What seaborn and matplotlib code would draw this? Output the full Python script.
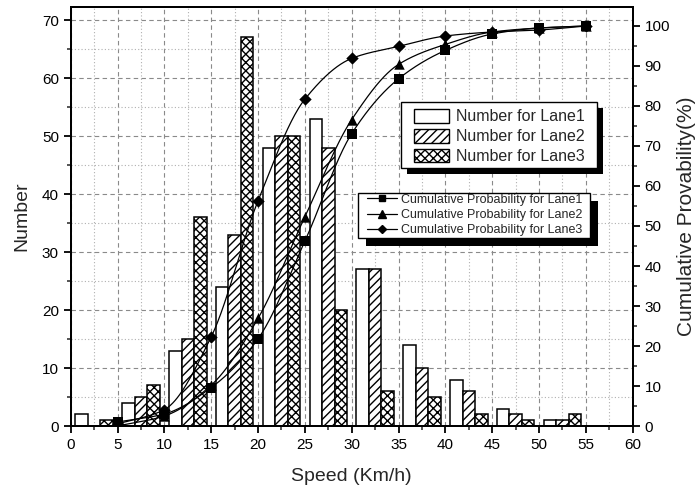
import numpy as np
import pandas as pd
import matplotlib
matplotlib.use("Agg")
import matplotlib.pyplot as plt
from matplotlib.patches import Patch, Rectangle
from matplotlib.lines import Line2D
from matplotlib.ticker import MultipleLocator
import seaborn as sns

# Speed bins (centre of each 5 km/h class) and vehicle counts per lane
speed_bins = [2.5, 7.5, 12.5, 17.5, 22.5, 27.5, 32.5, 37.5, 42.5, 47.5, 52.5]
count_lane1 = [2, 4, 13, 24, 48, 53, 27, 14, 8, 3, 1]
count_lane2 = [0, 5, 15, 33, 50, 48, 27, 10, 6, 2, 1]
count_lane3 = [1, 7, 36, 67, 50, 20, 6, 5, 2, 1, 2]

# Cumulative probability (%) at the upper edge of each class
cum_speed = [5, 10, 15, 20, 25, 30, 35, 40, 45, 50, 55]
cum_lane1 = [1.0, 3.0, 9.6, 21.8, 46.2, 73.1, 86.8, 93.9, 98.0, 99.5, 100.0]
cum_lane2 = [0.0, 2.5, 10.2, 26.9, 52.3, 76.6, 90.4, 95.4, 98.5, 99.5, 100.0]
cum_lane3 = [0.5, 4.1, 22.3, 56.3, 81.7, 91.9, 94.9, 97.5, 98.5, 99.0, 100.0]

lanes = ["Lane1", "Lane2", "Lane3"]
bar_labels = ["Number for Lane1", "Number for Lane2", "Number for Lane3"]
cum_labels = ["Cumulative Probability for Lane1",
              "Cumulative Probability for Lane2",
              "Cumulative Probability for Lane3"]
hatches = ["", "////", "xxxx"]
markers = ["s", "^", "D"]
marker_sizes = [6.5, 7.5, 6.3]
legend_marker_sizes = [4.8, 5.8, 4.4]


def pchip(x, y, xs):
    """Monotone cubic Hermite curve through (x, y), evaluated at xs."""
    x = np.asarray(x, float)
    y = np.asarray(y, float)
    h = np.diff(x)
    d = np.diff(y) / h
    m = np.zeros_like(y)
    for k in range(1, len(x) - 1):
        if d[k - 1] * d[k] > 0:
            w1 = 2 * h[k] + h[k - 1]
            w2 = h[k] + 2 * h[k - 1]
            m[k] = (w1 + w2) / (w1 / d[k - 1] + w2 / d[k])
    m[0] = d[0]
    m[-1] = d[-1]
    idx = np.clip(np.searchsorted(x, xs) - 1, 0, len(x) - 2)
    t = (xs - x[idx]) / h[idx]
    h00 = 2 * t**3 - 3 * t**2 + 1
    h10 = t**3 - 2 * t**2 + t
    h01 = -2 * t**3 + 3 * t**2
    h11 = t**3 - t**2
    return (h00 * y[idx] + h10 * h[idx] * m[idx]
            + h01 * y[idx + 1] + h11 * h[idx] * m[idx + 1])


sns.set_style("ticks")
plt.rcParams["font.family"] = ["Liberation Sans", "DejaVu Sans"]
plt.rcParams["hatch.linewidth"] = 1.0

fig = plt.figure(figsize=(6.96, 4.92), dpi=100)
W, H = 696.0, 492.0


def fx(px):
    return px / W


def fy(py):
    return 1 - py / H


ax = fig.add_axes([fx(70.7), fy(426), (632.7 - 70.7) / W, (426 - 7) / H])

df = pd.DataFrame({
    "speed": speed_bins * 3,
    "lane": np.repeat(lanes, len(speed_bins)),
    "count": count_lane1 + count_lane2 + count_lane3,
})

sns.barplot(data=df, x="speed", y="count", hue="lane", hue_order=lanes,
            native_scale=True, palette=["white"] * 3, saturation=1,
            edgecolor="black", linewidth=1.1, errorbar=None, legend=False,
            ax=ax)
for cont, hatch in zip(ax.containers, hatches):
    for bar in cont:
        bar.set_hatch(hatch)
        bar.set_facecolor("white")
        bar.set_edgecolor("black")

ax.set_xlim(0, 60)
ax.set_ylim(0, 72.25)
ax.set_xticks(range(0, 61, 5))
ax.set_xticklabels([str(v) for v in range(0, 61, 5)])
ax.xaxis.set_minor_locator(MultipleLocator(2.5))
ax.yaxis.set_major_locator(MultipleLocator(10))
ax.yaxis.set_minor_locator(MultipleLocator(5))
ax.grid(which="major", linestyle=(0, (4, 3)), color="#8a8a8a", linewidth=0.8)
ax.grid(which="minor", linestyle=(0, (1, 2)), color="#b0b0b0", linewidth=0.8)
ax.set_axisbelow(True)

ax2 = ax.twinx()
ax2.set_ylim(0, 104.75)
ax2.yaxis.set_major_locator(MultipleLocator(10))
ax2.yaxis.set_minor_locator(MultipleLocator(5))
ax2.grid(False)

xs = np.linspace(cum_speed[0], cum_speed[-1], 400)
for yv, mk, ms in zip([cum_lane1, cum_lane2, cum_lane3], markers, marker_sizes):
    sns.lineplot(x=xs, y=pchip(cum_speed, yv, xs), color="black",
                 linewidth=0.9, sort=False, estimator=None, ax=ax2)
    sns.scatterplot(x=cum_speed, y=yv, marker=mk, s=ms**2, color="black",
                    linewidth=0, ax=ax2, zorder=3)

for a in (ax, ax2):
    for sp in a.spines.values():
        sp.set_linewidth(1.4)
        sp.set_color("black")
    a.tick_params(which="major", direction="out", length=5, width=1.3,
                  labelsize=11, colors="black")
    a.tick_params(which="minor", direction="out", length=3, width=1.1)
ax.tick_params(axis="y", which="both", right=False)
ax.tick_params(axis="x", which="both", top=False)

ax.set_xlabel("Speed (Km/h)", fontsize=14, labelpad=12)
ax.set_ylabel("Number", fontsize=14, labelpad=8)
ax2.set_ylabel("Cumulative Provability(%)", fontsize=15, labelpad=5)


def boxed(x0, y0, x1, y1, off):
    """White framed box with a solid black drop shadow (pixel coords)."""
    ax2.add_artist(Rectangle((fx(x0 + off), fy(y1 + off)), (x1 - x0) / W,
                             (y1 - y0) / H, transform=fig.transFigure,
                             facecolor="black", edgecolor="none",
                             zorder=4.7, clip_on=False))
    ax2.add_artist(Rectangle((fx(x0), fy(y1)), (x1 - x0) / W, (y1 - y0) / H,
                             transform=fig.transFigure, facecolor="white",
                             edgecolor="black", linewidth=1.0,
                             zorder=4.8, clip_on=False))


boxed(401, 102, 597, 168, 6)
boxed(358, 193, 590, 238, 8)

bar_handles = [Patch(facecolor="white", edgecolor="black", hatch=h,
                     linewidth=1.0) for h in hatches]
leg1 = ax2.legend(bar_handles, bar_labels, loc="upper left",
                  bbox_to_anchor=(fx(414), fy(109)),
                  bbox_transform=fig.transFigure, borderaxespad=0,
                  fontsize=11.5, handlelength=2.2, handleheight=0.95,
                  handletextpad=0.4, labelspacing=0.28, borderpad=0,
                  frameon=False)
leg1.set_zorder(5)
ax2.add_artist(leg1)

cum_handles = [Line2D([], [], color="black", linewidth=0.9, marker=mk,
                      markersize=ms)
               for mk, ms in zip(markers, legend_marker_sizes)]
leg2 = ax2.legend(cum_handles, cum_labels, loc="upper left",
                  bbox_to_anchor=(fx(367), fy(193.5)),
                  bbox_transform=fig.transFigure, borderaxespad=0,
                  fontsize=9, handlelength=2.4, handletextpad=0.3,
                  labelspacing=0.27, borderpad=0, frameon=False)
leg2.set_zorder(5)

fig.savefig("out.png", dpi=100)
